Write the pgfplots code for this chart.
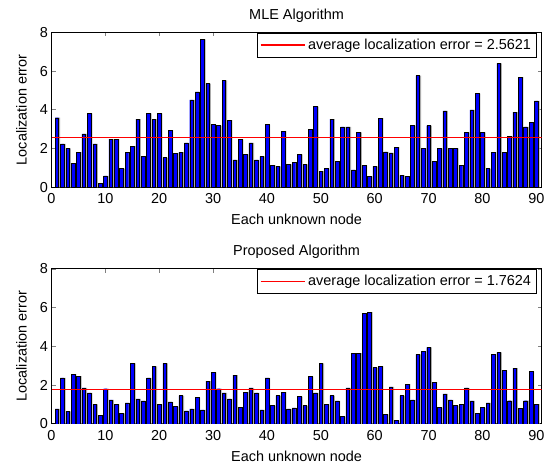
\documentclass[border=0pt]{standalone}
\usepackage{fontspec}
\setmainfont{Liberation Sans}
\usepackage{pgfplots}
\pgfplotsset{compat=1.18}
\usepackage{pgfplotstable}

\pgfplotstableread{
x y
1 3.59
2 2.24
3 2.01
4 1.25
5 1.82
6 2.76
7 3.82
8 2.24
9 0.19
10 0.59
11 2.48
12 2.48
13 0.97
14 1.82
15 2.12
16 3.52
17 1.60
18 3.82
19 3.52
20 3.82
21 1.53
22 2.95
23 1.77
24 1.82
25 2.29
26 4.51
27 4.93
28 7.64
29 5.35
30 3.23
31 3.18
32 5.52
33 3.47
34 1.42
35 2.47
36 1.70
37 2.29
38 1.42
39 1.60
40 3.23
41 1.13
42 1.08
43 2.90
44 1.18
45 1.30
46 1.70
47 1.18
48 3.00
49 4.17
50 0.83
51 0.97
52 3.52
53 1.32
54 3.12
55 3.12
56 0.90
57 2.84
58 1.13
59 0.56
60 1.08
61 3.57
62 1.83
63 1.78
64 2.07
65 0.61
66 0.56
67 3.18
68 5.76
69 2.01
70 3.18
71 1.35
72 2.01
73 3.94
74 2.01
75 2.01
76 1.13
77 2.83
78 3.99
79 4.83
80 2.83
81 0.97
82 1.82
83 6.39
84 1.82
85 2.64
86 3.88
87 5.68
88 3.12
89 3.35
90 4.46
}\mletable

\pgfplotstableread{
x y
1 0.77
2 2.37
3 0.64
4 2.56
5 2.46
6 1.86
7 1.59
8 1.00
9 0.43
10 1.81
11 1.23
12 1.00
13 0.54
14 1.08
15 3.12
16 1.29
17 1.18
18 2.37
19 2.97
20 1.00
21 3.12
22 1.13
23 0.89
24 1.46
25 0.67
26 0.77
27 1.35
28 0.72
29 2.20
30 2.66
31 1.81
32 1.59
33 1.29
34 2.51
35 0.84
36 1.64
37 1.86
38 1.59
39 0.72
40 2.37
41 0.94
42 1.46
43 1.64
44 0.77
45 0.82
46 1.40
47 0.94
48 2.44
49 1.59
50 3.12
51 1.00
52 1.46
53 1.18
54 0.37
55 1.86
56 3.65
57 3.65
58 5.71
59 5.76
60 2.90
61 2.97
62 0.49
63 1.91
64 0.16
65 1.46
66 2.05
67 1.23
68 3.58
69 3.75
70 3.94
71 2.15
72 0.84
73 1.54
74 1.23
75 0.94
76 1.00
77 1.86
78 1.18
79 0.54
80 0.84
81 1.08
82 3.60
83 3.69
84 2.74
85 1.19
86 2.87
87 0.78
88 1.19
89 2.69
90 1.02
}\proptable

\newcommand{\fs}{\fontsize{14.5}{16.5}\selectfont}

\pgfplotsset{
  myaxis/.style={
    scale only axis,
    width=490.2bp, height=155bp,
    anchor=south west,
    xmin=0, xmax=91, ymin=0, ymax=8,
    xtick={0,10,...,90}, ytick={0,2,...,8},
    tick align=inside,
    major tick length=4bp,
    axis line style={line width=0.8bp},
    tick style={line width=0.6bp},
    tick label style={font=\fs},
    xticklabel style={yshift=-3bp},
    /pgf/number format/assume math mode=true,
    xlabel={Each unknown node},
    ylabel={Localization error},
    xlabel style={font=\fs, at={(axis description cs:0.5,-0.207)}, anchor=center},
    ylabel style={font=\fs, at={(axis description cs:-0.0612,0.5)}, anchor=center, rotate=0},
    every axis title shift=0pt,
    title style={font=\fs, at={(axis description cs:0.5,1.107)}, anchor=center},
    legend cell align=left,
    legend style={at={(1,1)}, anchor=north east, xshift=-5bp, yshift=-0.5bp,
      font=\fs,
      inner xsep=2.5bp, inner ysep=2bp,
      nodes={inner xsep=3bp, inner ysep=4bp}},
    legend image code/.code={\draw[#1] (3bp,0bp) -- (47bp,0bp);},
  },
}

\begin{document}
\begin{tikzpicture}
\useasboundingbox (0,0) rectangle (556bp,465bp);
\begin{axis}[myaxis, at={(51.5bp,277.7bp)}, title={MLE Algorithm}]
  \addplot[ybar, bar width=0.68, bar shift=1.4bp, fill=black!33, draw=none, forget plot] table[x=x,y=y] {\mletable};
  \addplot[ybar, bar width=0.68, fill=blue, draw=black, line width=0.45bp, forget plot] table[x=x,y=y] {\mletable};
  \addplot[red, line width=1.3bp] coordinates {(0,2.5621) (91,2.5621)};
  \addlegendentry{average localization error = 2.5621}
\end{axis}
\begin{axis}[myaxis, at={(51.5bp,41.2bp)}, title={Proposed Algorithm}]
  \addplot[ybar, bar width=0.68, bar shift=1.4bp, fill=black!33, draw=none, forget plot] table[x=x,y=y] {\proptable};
  \addplot[ybar, bar width=0.68, fill=blue, draw=black, line width=0.45bp, forget plot] table[x=x,y=y] {\proptable};
  \addplot[red, line width=1.3bp] coordinates {(0,1.7624) (91,1.7624)};
  \addlegendentry{average localization error = 1.7624}
\end{axis}
\end{tikzpicture}
\end{document}
